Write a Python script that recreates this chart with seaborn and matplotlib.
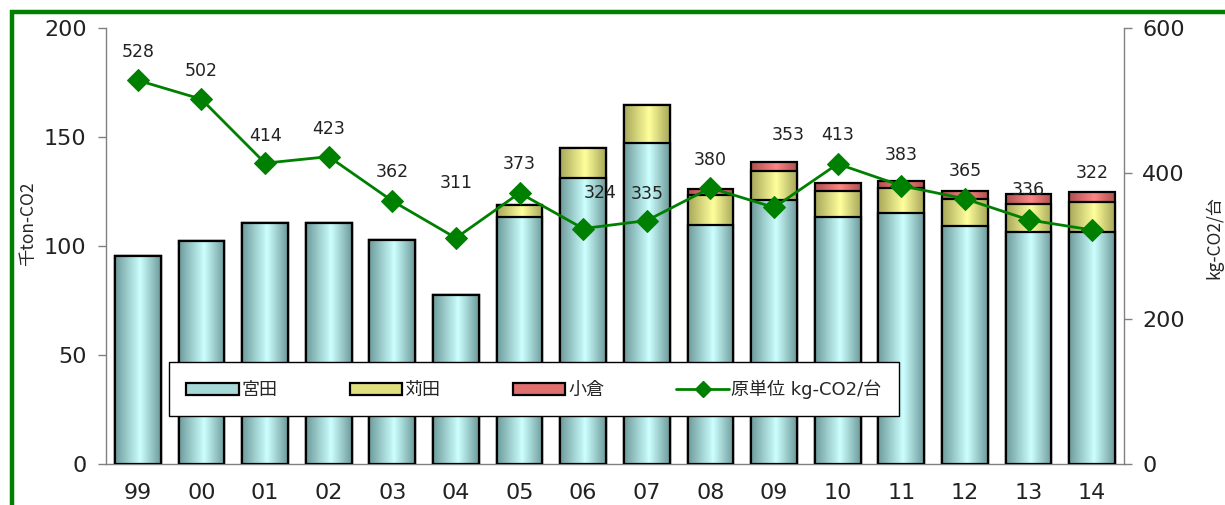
import numpy as np
import pandas as pd
import seaborn as sns
import matplotlib
matplotlib.use("agg")
import matplotlib.pyplot as plt
from matplotlib.colors import LinearSegmentedColormap
from matplotlib.patches import Rectangle, Patch
from matplotlib.lines import Line2D

years = ["99", "00", "01", "02", "03", "04", "05", "06", "07", "08",
         "09", "10", "11", "12", "13", "14"]
miyata = [95.5, 102.3, 110.6, 110.6, 102.8, 77.5, 113.2, 131.3, 147.1, 109.6,
          121.0, 113.4, 115.3, 109.3, 106.6, 106.6]
kanda = [0, 0, 0, 0, 0, 0, 5.5, 13.5, 17.6, 13.8,
         13.3, 11.8, 11.5, 12.4, 12.5, 13.4]
kokura = [0, 0, 0, 0, 0, 0, 0, 0, 0, 2.6,
          4.3, 3.8, 3.0, 3.5, 4.6, 4.6]
unit = [528, 502, 414, 423, 362, 311, 373, 324, 335, 380,
        353, 413, 383, 365, 336, 322]
# 数値ラベルの位置ずれ (px)
label_dx = [0, 0, 0, 0, 0, 0, 0, 17, 0, 0, 14, 0, 0, 0, 0, 0]
label_dy = [28, 28, 27, 28, 29, 55, 29, 36, 27, 28, 72, 29, 31, 28, 30, 57]

series_names = ["宮田", "苅田", "小倉"]
line_name = "原単位 kg-CO2/台"

sns.set_theme(style="white")
plt.rcParams['font.family'] = ['DejaVu Sans', 'Noto Sans CJK JP']

df = pd.DataFrame({"year": years, "miyata": miyata, "kanda": kanda, "kokura": kokura})
df["mid"] = df["miyata"] + df["kanda"]
df["total"] = df["mid"] + df["kokura"]

fig = plt.figure(figsize=(12.25, 5.05), dpi=100)
ax = fig.add_axes([106 / 1225, 41 / 505, 1018 / 1225, 436 / 505])

# 緑の枠
fig.patches.append(Rectangle((12 / 1225, -0.2), 1.2, 1.2 - 12 / 505,
                             transform=fig.transFigure, fill=False,
                             edgecolor="#008000", linewidth=3.2, zorder=0))

layers = [("total", "#b05050", "#ff8585"),
          ("mid", "#a8a85a", "#ffff9c"),
          ("miyata", "#6f9c9c", "#ccffff")]

grad = np.linspace(0, 1, 64).reshape(1, -1)
for i, (col, dark, light) in enumerate(layers):
    cmap = LinearSegmentedColormap.from_list(col, [(0, dark), (0.55, light), (1, dark)])
    n0 = len(ax.patches)
    sns.barplot(data=df, x="year", y=col, ax=ax, width=0.72, color=light,
                edgecolor="black", linewidth=1.6, saturation=1, zorder=2 + 3 * i)
    for p in ax.patches[n0:]:
        x0, y0 = p.get_x(), p.get_y()
        w, h = p.get_width(), p.get_height()
        if h <= 0:
            continue
        im = ax.imshow(grad, cmap=cmap, aspect="auto", extent=(x0, x0 + w, y0, y0 + h),
                       zorder=3 + 3 * i, interpolation="bilinear")
        im.set_clip_path(p)
        p.set_facecolor("none")
        p.set_zorder(4 + 3 * i)

ax.set_xlim(-0.5, 15.5)
ax.set_ylim(0, 200)
ax.set_yticks([0, 50, 100, 150, 200])
ax.set_xlabel("")
ax.set_ylabel("千ton-CO2", fontsize=12.5, family=['Noto Sans CJK JP', 'DejaVu Sans'])
ax.yaxis.set_label_coords(-0.068, 0.55)

ax.set_xticks(np.arange(-0.5, 16, 1))
ax.set_xticklabels([])
ax.set_xticks(np.arange(16), minor=True)
ax.set_xticklabels(years, minor=True)
ax.tick_params(axis="x", which="major", direction="in", length=5, color="#808080", width=1)
ax.tick_params(axis="x", which="minor", length=0, pad=14, labelsize=16, labelcolor="#222222")
ax.tick_params(axis="y", direction="out", length=6, color="#808080", width=1,
               pad=8, labelsize=16, labelcolor="#222222", left=True)
for s in ["top", "right"]:
    ax.spines[s].set_visible(False)
for s in ["left", "bottom"]:
    ax.spines[s].set_color("#808080")
    ax.spines[s].set_linewidth(1)

ax2 = ax.twinx()
sns.lineplot(x=np.arange(16), y=unit, ax=ax2, color="#008000", linewidth=2,
             marker="D", markersize=11, markeredgecolor="#008000", zorder=20)
ax2.set_ylim(0, 600)
ax2.set_yticks([0, 200, 400, 600])
ax2.set_xlim(-0.5, 15.5)
ax2.set_ylabel("kg-CO2/台", fontsize=12.5, family=['Noto Sans CJK JP', 'DejaVu Sans'])
ax2.yaxis.set_label_coords(1.0795, 0.52)
ax2.tick_params(axis="y", direction="out", length=6, color="#808080", width=1,
                pad=7, labelsize=16, labelcolor="#222222", right=True)
for s in ["top", "left", "bottom"]:
    ax2.spines[s].set_visible(False)
ax2.spines["right"].set_color("#808080")
ax2.spines["right"].set_linewidth(1)

for i, v in enumerate(unit):
    ax2.annotate(str(v), (i, v), xytext=(label_dx[i], label_dy[i]),
                 textcoords="offset pixels", ha="center", va="center",
                 fontsize=12.5, color="#222222", zorder=25)

handles = [Patch(facecolor=c, edgecolor="black", linewidth=1.6)
           for c in ["#a6d8d8", "#e0e080", "#e07070"]]
handles.append(Line2D([0], [0], color="#008000", linewidth=2, marker="D",
                      markersize=8))
leg = ax2.legend(handles, series_names + [line_name], ncol=4, loc="center",
                 bbox_to_anchor=(0.041, 0.108, 0.759, 0.126),
                 frameon=True, fancybox=False, handlelength=2.9, handleheight=0.6,
                 handletextpad=0.15, columnspacing=4.0, borderpad=0.95,
                 borderaxespad=0, framealpha=1,
                 prop={"family": ['DejaVu Sans', 'Noto Sans CJK JP'], "size": 13})
leg.get_frame().set_edgecolor("black")
leg.get_frame().set_linewidth(1)
leg.set_zorder(30)

fig.savefig("out.png", dpi=100)
